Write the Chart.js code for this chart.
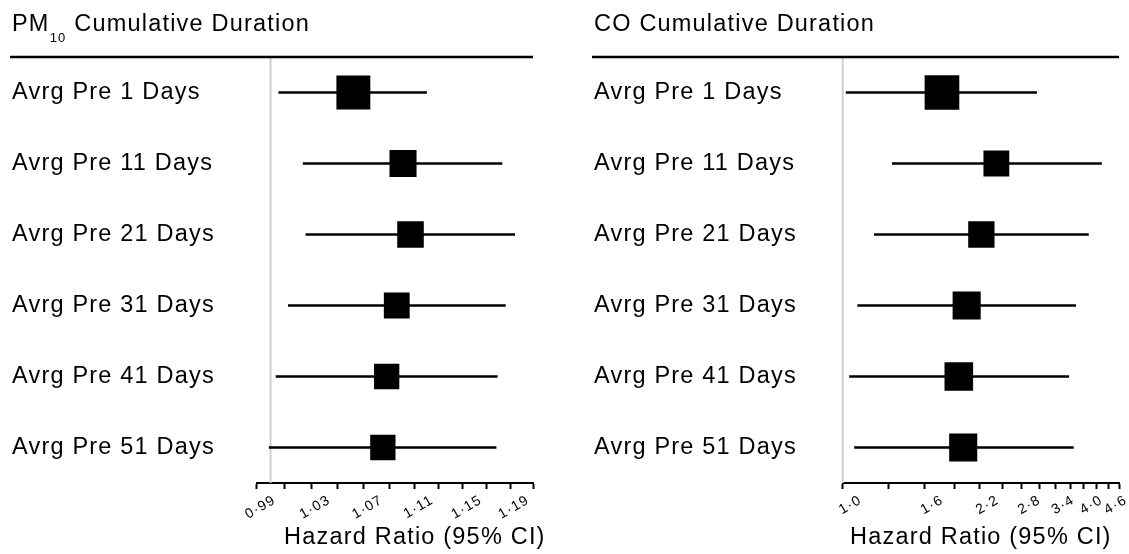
<!DOCTYPE html>
<html>
<head>
<meta charset="utf-8">
<script src="https://cdn.jsdelivr.net/npm/chart.js@4.4.1/dist/chart.umd.min.js"></script>
<style>
  html, body { margin: 0; padding: 0; background: #fff; overflow: hidden; }
  .panel { position: absolute; top: 0; height: 554px; overflow: hidden; }
  #pm10Box { left: 0; width: 570px; }
  #coBox { left: 575px; width: 554px; }
</style>
</head>
<body>
<div class="panel" id="pm10Box"><canvas id="pm10Chart" width="570" height="554"></canvas></div>
<div class="panel" id="coBox"><canvas id="coChart" width="580" height="554"></canvas></div>
<script>
const categories = ['Avrg Pre 1 Days', 'Avrg Pre 11 Days', 'Avrg Pre 21 Days',
                    'Avrg Pre 31 Days', 'Avrg Pre 41 Days', 'Avrg Pre 51 Days'];

// PM10 panel
const pm10Est = [1.062, 1.101, 1.107, 1.096, 1.088, 1.085];
const pm10Lower = [1.006, 1.024, 1.026, 1.013, 1.004, 0.999];
const pm10Upper = [1.120, 1.183, 1.194, 1.186, 1.179, 1.178];
const pm10Weight = [1.34, 1.07, 1.05, 1.02, 1.0, 1.0];
const pm10Ticks = [0.99, 1.01, 1.03, 1.05, 1.07, 1.09, 1.11, 1.13, 1.15, 1.17, 1.19, 1.21];
const pm10TickLabels = ['0·99', '', '1·03', '', '1·07', '', '1·11', '', '1·15', '', '1·19', ''];

// CO panel
const coEst = [1.77, 2.42, 2.22, 2.04, 1.95, 2.00];
const coLower = [1.02, 1.33, 1.20, 1.09, 1.04, 1.07];
const coUpper = [3.05, 4.43, 4.11, 3.82, 3.67, 3.77];
const coWeight = [1.37, 1.02, 1.04, 1.11, 1.13, 1.11];
const coTicks = [1.0, 1.3, 1.6, 1.9, 2.2, 2.5, 2.8, 3.1, 3.4, 3.7, 4.0, 4.3, 4.6, 4.9];
const coTickLabels = ['1·0', '', '1·6', '', '2·2', '', '2·8', '', '3·4', '', '4·0', '', '4·6', ''];

const axisTitle = 'Hazard Ratio (95% CI)';
const FONT = '"Liberation Sans", Arial, sans-serif';
const BOX = 25.3;   // side of a weight-1 box, px

Chart.defaults.font.family = FONT;
Chart.defaults.color = '#000';

// text in the source is a bit wider than plain Arial
const spacing = {
  id: 'spacing',
  beforeUpdate(chart) { chart.ctx.letterSpacing = '1.2px'; },
  beforeDraw(chart) { chart.ctx.letterSpacing = '1.2px'; }
};

// null line, rule under the title, titles
const decor = {
  id: 'decor',
  beforeDatasetsDraw(chart, args, o) {
    const { ctx, chartArea } = chart;
    const x1 = chart.scales.x.getPixelForValue(1);
    ctx.save();
    ctx.strokeStyle = '#cfcfcf';
    ctx.lineWidth = 2;
    ctx.beginPath();
    ctx.moveTo(x1, chartArea.top);
    ctx.lineTo(x1, chartArea.bottom);
    ctx.stroke();
    ctx.restore();
  },
  afterDraw(chart, args, o) {
    const { ctx, chartArea } = chart;
    ctx.save();
    ctx.strokeStyle = '#000';
    ctx.lineWidth = 2.5;
    ctx.beginPath();
    ctx.moveTo(o.left - 2, chartArea.top);
    ctx.lineTo(chartArea.right, chartArea.top);
    ctx.stroke();

    ctx.fillStyle = '#000';
    ctx.textBaseline = 'alphabetic';
    ctx.textAlign = 'left';
    let x = o.left;
    o.title.forEach(part => {
      ctx.font = (part.sub ? '13px ' : '23.5px ') + FONT;
      ctx.fillText(part.text, x, part.sub ? 42 : 31);
      x += ctx.measureText(part.text).width;
    });

    ctx.font = '23.5px ' + FONT;
    ctx.textAlign = 'center';
    ctx.fillText(axisTitle, (chartArea.left + chartArea.right) / 2 + o.titleShift, 544);
    ctx.restore();
  }
};

function forestChart(id, p) {
  return new Chart(document.getElementById(id), {
    data: {
      labels: categories,
      datasets: [{
        type: 'bar',
        indexAxis: 'y',
        data: p.lower.map((v, i) => [v, p.upper[i]]),
        backgroundColor: '#000',
        barThickness: 2,
        order: 2
      }, {
        type: 'line',
        indexAxis: 'y',
        data: p.est,
        showLine: false,
        pointStyle: 'rect',
        pointRadius: p.weight.map(w => w * BOX / (2 * Math.SQRT1_2)),
        pointBackgroundColor: '#000',
        pointBorderWidth: 0,
        order: 1
      }]
    },
    options: {
      responsive: false,
      animation: false,
      indexAxis: 'y',
      layout: { padding: { left: p.padLeft, right: p.padRight, top: 57, bottom: 0 } },
      plugins: {
        legend: { display: false },
        tooltip: { enabled: false },
        decor: { left: p.padLeft, title: p.title, titleShift: p.titleShift }
      },
      scales: {
        x: {
          type: 'logarithmic',
          min: p.ticks[0],
          max: p.ticks[p.ticks.length - 1],
          afterBuildTicks: s => { s.ticks = p.ticks.map(v => ({ value: v })); },
          afterFit: s => { s.height = 71; },
          ticks: {
            autoSkip: false,
            minRotation: 30,
            maxRotation: 30,
            labelOffset: 18,
            padding: 3,
            font: { size: 14 },
            callback: (v, i) => p.tickLabels[i]
          },
          grid: { drawOnChartArea: false, drawTicks: true, tickLength: 6, tickColor: '#000', tickWidth: 2 },
          border: { color: '#000', width: 2 }
        },
        y: {
          afterFit: s => { s.width = p.axisWidth; },
          grid: { display: false },
          border: { display: false },
          ticks: { crossAlign: 'far', font: { size: 23.5 } }
        }
      }
    },
    plugins: [spacing, decor]
  });
}

forestChart('pm10Chart', {
  est: pm10Est, lower: pm10Lower, upper: pm10Upper, weight: pm10Weight,
  ticks: pm10Ticks, tickLabels: pm10TickLabels,
  title: [{ text: 'PM' }, { text: '10', sub: true }, { text: ' Cumulative Duration' }],
  padLeft: 12, padRight: 37, axisWidth: 244.7, titleShift: 20
});

// the CO canvas runs past the window edge; the axis keeps ~25px on its right for the last label
forestChart('coChart', {
  est: coEst, lower: coLower, upper: coUpper, weight: coWeight,
  ticks: coTicks, tickLabels: coTickLabels,
  title: [{ text: 'CO Cumulative Duration' }],
  padLeft: 19, padRight: 36, axisWidth: 248.7, titleShift: 0
});
</script>
</body>
</html>
